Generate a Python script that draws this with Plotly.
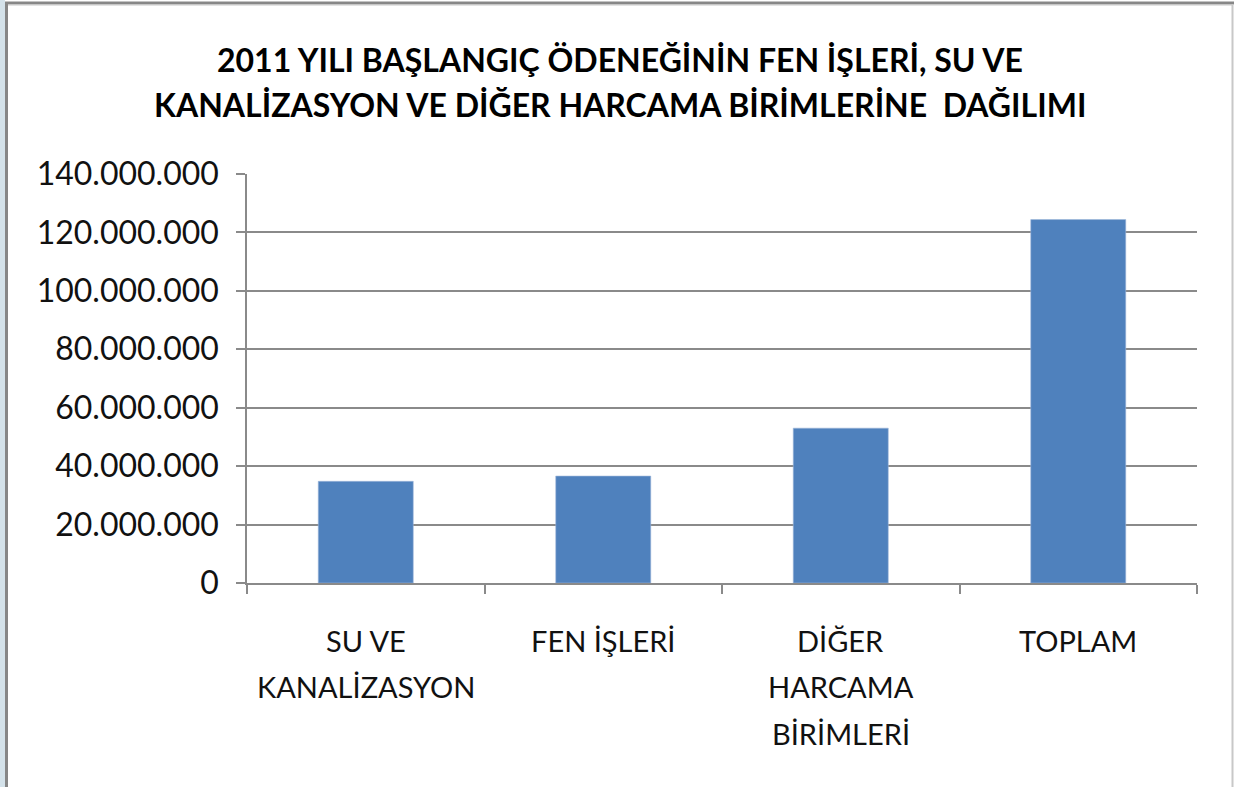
import plotly.graph_objects as go

# ---- data ----
categories = ["SU VE KANALİZASYON", "FEN İŞLERİ", "DİĞER HARCAMA BİRİMLERİ", "TOPLAM"]
category_lines = [["SU VE", "KANALİZASYON"], ["FEN İŞLERİ"], ["DİĞER", "HARCAMA", "BİRİMLERİ"], ["TOPLAM"]]
values = [34800000, 36600000, 53000000, 124400000]
y_ticks = [0, 20000000, 40000000, 60000000, 80000000, 100000000, 120000000, 140000000]
title_lines = ["2011 YILI BAŞLANGIÇ ÖDENEĞİNİN FEN İŞLERİ, SU VE",
               "KANALİZASYON VE DİĞER HARCAMA BİRİMLERİNE  DAĞILIMI"]

W, H = 1234, 787
L, R, T, B = 247, 1197, 174, 583


def px(x):
    return (x - L) / (R - L)


def py(y):
    return (B - y) / (B - T)


FONT = "Lato"
GRID = "#8a8a8a"

fig = go.Figure()
fig.add_trace(go.Bar(
    x=categories, y=values,
    marker=dict(color="#4f81bd", line=dict(color="#9db7da", width=0.6)),
    width=0.4,
))

annotations = []
# title
for i, t in enumerate(title_lines):
    annotations.append(dict(
        text="<b>%s</b>" % t, x=px(620), y=py(60 + i * 44), xref="paper", yref="paper",
        showarrow=False, xanchor="center", yanchor="middle",
        font=dict(family=FONT, size=32, color="#000000"),
    ))
# category labels
for cat, lines in zip(categories, category_lines):
    for j, line in enumerate(lines):
        annotations.append(dict(
            text=line, x=cat, y=py(640 + j * 46.5), xref="x", yref="paper",
            showarrow=False, xanchor="center", yanchor="middle",
            font=dict(family=FONT, size=29, color="#111111"),
        ))

shapes = [
    # left light strip
    dict(type="rect", xref="paper", yref="paper", x0=px(0), x1=px(5), y0=py(0), y1=py(800),
         fillcolor="#d4e2ea", line=dict(width=0), layer="below"),
    # left dark border
    dict(type="line", xref="paper", yref="paper", x0=px(6.5), x1=px(6.5), y0=py(2), y1=py(800),
         line=dict(color="#878787", width=3)),
    # top dark border
    dict(type="line", xref="paper", yref="paper", x0=px(5), x1=px(1234), y0=py(3), y1=py(3),
         line=dict(color="#878787", width=3)),
    dict(type="line", xref="paper", yref="paper", x0=px(8), x1=px(1232), y0=py(5), y1=py(5),
         line=dict(color="#c8c8c8", width=1)),
    # right light border
    dict(type="line", xref="paper", yref="paper", x0=px(1232.5), x1=px(1232.5), y0=py(4), y1=py(800),
         line=dict(color="#c8c8c8", width=2)),
]

fig.update_layout(
    width=W, height=H,
    margin=dict(l=L, r=W - R, t=T, b=H - B, pad=0),
    paper_bgcolor="white", plot_bgcolor="white",
    separators=",.",
    showlegend=False,
    annotations=annotations,
    shapes=shapes,
    bargap=0.6,
)
fig.update_xaxes(
    type="category", showticklabels=False,
    showline=True, linecolor=GRID, linewidth=1.5,
    ticks="outside", ticklen=9, tickcolor=GRID, tickwidth=1.5,
    tickson="boundaries", showgrid=False,
)
fig.update_yaxes(
    range=[0, 140000000], tickvals=y_ticks, tickformat=",d",
    showgrid=True, gridcolor=GRID, gridwidth=1.5,
    showline=True, linecolor=GRID, linewidth=1.5,
    ticks="outside", ticklen=9, tickcolor=GRID, tickwidth=1.5,
    ticklabelstandoff=11,
    tickfont=dict(family=FONT, size=32, color="#111111"),
    zeroline=False,
)

fig.write_html("out.html", config={"displayModeBar": False},
               post_script="document.body.style.margin='0';")
